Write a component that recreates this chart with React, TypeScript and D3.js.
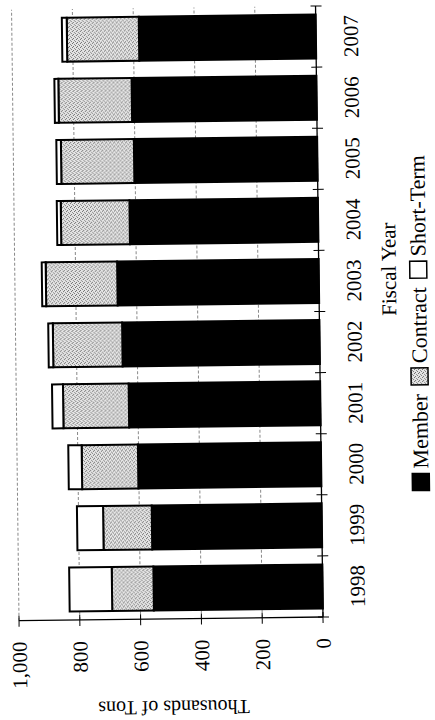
import React from 'react';
import * as d3 from 'd3';

// Fiscal years and tonnage (thousands of tons) by contract type
const years = ['1998', '1999', '2000', '2001', '2002', '2003', '2004', '2005', '2006', '2007'];
const member = [556, 559, 602, 630, 649, 663, 620, 603, 608, 582];
const contract = [137, 160, 185, 216, 228, 235, 226, 240, 241, 237];
const shortTerm = [140, 86, 44, 36, 15, 13, 13, 15, 13, 16];
const seriesKeys = ['Member', 'Contract', 'Short-Term'];
const valueTicks = [0, 200, 400, 600, 800, 1000];

const FONT = "'Liberation Serif', 'Times New Roman', serif";

function textWidth(text: string, size: number) {
  const ctx = document.createElement('canvas').getContext('2d');
  if (!ctx) return text.length * size * 0.5;
  ctx.font = `${size}px ${FONT}`;
  return ctx.measureText(text).width;
}

export default function App() {
  const rows = years.map((yr, i) => ({
    year: yr,
    Member: member[i],
    Contract: contract[i],
    'Short-Term': shortTerm[i],
  }));
  const stacked = d3.stack<any>().keys(seriesKeys)(rows);

  // Chart laid out as a normal column chart (720 wide, 435 tall), then turned on its side
  const x = d3.scaleBand<string>().domain(years).range([103, 714]).paddingInner(0.28).paddingOuter(0.14);
  const y = d3.scaleLinear().domain([0, 1000]).range([323, 19]);
  const fmt = d3.format(',');
  const fills: Record<string, string> = {
    Member: '#000',
    Contract: 'url(#stipple)',
    'Short-Term': '#fff',
  };
  const step = x.step();
  const x0 = x.range()[0];
  const boundaries = d3.range(years.length + 1).map((i) => x0 + i * step);

  // legend layout
  const legendSize = 22;
  const sw = 17;
  const items = seriesKeys.map((k) => ({ key: k, w: sw + 5 + textWidth(k, legendSize) }));
  const gap = 9;
  const totalW = d3.sum(items, (d) => d.w) + gap * (items.length - 1);
  let cursor = 396 - totalW / 2;
  const legendItems = items.map((it) => {
    const pos = cursor;
    cursor += it.w + gap;
    return { ...it, pos };
  });

  return (
    <svg
      width={435}
      height={720}
      style={{ position: 'absolute', left: 0, top: 0, background: '#fff' }}
      fontFamily={FONT}
    >
      <defs>
        <pattern id="stipple" width="4" height="4" patternUnits="userSpaceOnUse">
          <rect width="4" height="4" fill="#e6e6e6" />
          <rect x="0" y="0" width="1" height="1" fill="#6a6a6a" />
          <rect x="2" y="1" width="1" height="1" fill="#8a8a8a" />
          <rect x="1" y="2" width="1" height="1" fill="#7a7a7a" />
          <rect x="3" y="3" width="1" height="1" fill="#6a6a6a" />
        </pattern>
      </defs>
      <rect width={435} height={720} fill="#fff" />
      <g transform="rotate(-0.7 323 617)">
        <g transform="translate(0,720) rotate(-90)">
          {/* gridlines */}
          {valueTicks.slice(1).map((v) => (
            <line
              key={`g${v}`}
              x1={x0}
              x2={714}
              y1={y(v)}
              y2={y(v)}
              stroke="#888"
              strokeWidth={1}
              strokeDasharray="3,2"
            />
          ))}
          {/* stacked bars */}
          {stacked.map((s) => (
            <g key={s.key}>
              {s.map((d: any, i: number) => (
                <rect
                  key={i}
                  x={x(d.data.year)}
                  width={x.bandwidth()}
                  y={y(d[1])}
                  height={y(d[0]) - y(d[1])}
                  fill={fills[s.key]}
                  stroke="#000"
                  strokeWidth={2}
                />
              ))}
            </g>
          ))}
          {/* value axis */}
          <line x1={x0} x2={x0} y1={y(0)} y2={y(1000)} stroke="#000" strokeWidth={1.3} />
          {valueTicks.map((v) => (
            <g key={`t${v}`}>
              <line x1={x0 - 6} x2={x0 + 5} y1={y(v)} y2={y(v)} stroke="#000" strokeWidth={1} />
              <text x={82} y={y(v)} dy="0.35em" textAnchor="end" fontSize={21} fill="#000">
                {fmt(v)}
              </text>
            </g>
          ))}
          {/* category axis */}
          <line x1={x0} x2={714} y1={y(0)} y2={y(0)} stroke="#000" strokeWidth={1.3} />
          {boundaries.map((b, i) => (
            <line key={`b${i}`} x1={b} x2={b} y1={y(0) - 5} y2={y(0) + 6} stroke="#000" strokeWidth={1} />
          ))}
          {years.map((yr) => (
            <text
              key={`l${yr}`}
              x={(x(yr) ?? 0) + x.bandwidth() / 2}
              y={365}
              textAnchor="middle"
              fontSize={21}
              fill="#000"
            >
              {yr}
            </text>
          ))}
          {/* axis titles */}
          <text transform="translate(21,173) rotate(-90)" textAnchor="middle" fontSize={20} fill="#000">
            Thousands of Tons
          </text>
          <text x={450} y={400} textAnchor="middle" fontSize={21} fill="#000">
            Fiscal Year
          </text>
          {/* legend */}
          {legendItems.map((it) => (
            <g key={`lg${it.key}`} transform={`translate(${it.pos},${430})`}>
              <rect
                x={0}
                y={-sw + 1}
                width={sw}
                height={sw}
                fill={fills[it.key]}
                stroke="#000"
                strokeWidth={1.5}
              />
              <text x={sw + 5} y={0} fontSize={legendSize} fill="#000">
                {it.key}
              </text>
            </g>
          ))}
        </g>
      </g>
    </svg>
  );
}
